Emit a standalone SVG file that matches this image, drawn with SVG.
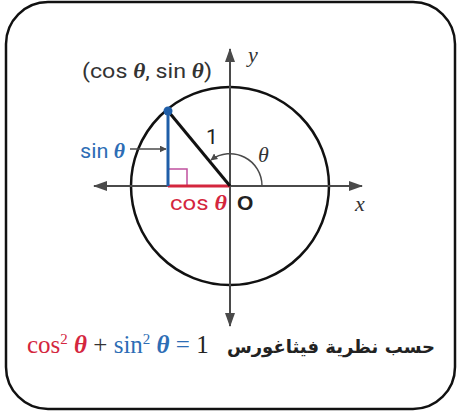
<svg xmlns="http://www.w3.org/2000/svg" width="458" height="414" viewBox="0 0 458 414">
<style>
.ax{stroke:#4a4a4a;stroke-width:2;fill:none}
.lbl{font-family:"Roboto","Liberation Sans",sans-serif;font-size:21px}
.th{font-family:"Liberation Serif",serif;font-style:italic;font-weight:bold}
.var{font-family:"Liberation Serif",serif;font-style:italic;font-size:22px;fill:#333}
.eq{font-family:"Liberation Serif",serif;font-size:25px}
</style>
<defs>
<marker id="ah" viewBox="0 0 10 10" refX="9" refY="5" markerWidth="7" markerHeight="7" orient="auto" markerUnits="userSpaceOnUse">
<path d="M0,0 L10,5 L0,10 Z" fill="#4a4a4a"/>
</marker>
<marker id="axh" viewBox="0 0 14 10" refX="13" refY="5" markerWidth="14" markerHeight="10" orient="auto" markerUnits="userSpaceOnUse">
<path d="M0,0 L14,5 L0,10 Z" fill="#4a4a4a"/>
</marker>
</defs>
<rect x="6" y="2" width="449" height="407" rx="42" ry="42" fill="#fff" stroke="#111" stroke-width="2.5"/>
<g id="circle"><circle cx="230" cy="186" r="99" fill="none" stroke="#111" stroke-width="2.5"/></g>
<g id="connectors">
<line class="ax" x1="230" y1="186" x2="94" y2="186" marker-end="url(#axh)"/>
<line class="ax" x1="230" y1="186" x2="362" y2="186" marker-end="url(#axh)"/>
<line class="ax" x1="230" y1="186" x2="230" y2="49" marker-end="url(#axh)"/>
<line class="ax" x1="230" y1="186" x2="230" y2="326" marker-end="url(#axh)"/>
<path d="M262,186 A32,32 0 0 0 211,160" fill="none" stroke="#4a4a4a" stroke-width="1.5" marker-end="url(#ah)"/>
<line x1="130" y1="149" x2="166" y2="149" stroke="#4a4a4a" stroke-width="1.5" marker-end="url(#ah)"/>
</g>
<g id="triangle">
<rect x="168" y="169" width="19" height="17" fill="none" stroke="#c0509e" stroke-width="1.5"/>
<line x1="168" y1="186" x2="230" y2="186" stroke="#d4263e" stroke-width="3"/>
<line x1="168" y1="111" x2="168" y2="186" stroke="#1f5ea8" stroke-width="3"/>
<line x1="168" y1="111" x2="230" y2="186" stroke="#111" stroke-width="3"/>
<circle cx="168" cy="111" r="4.5" fill="#1f5ea8"/>
</g>
<g id="labels">
<text class="lbl" x="82" y="78" fill="#333" textLength="130" lengthAdjust="spacingAndGlyphs">(cos <tspan class="th">θ</tspan>, sin <tspan class="th">θ</tspan>)</text>
<text class="var" x="248" y="62">y</text>
<text class="var" x="355" y="211">x</text>
<text class="lbl" x="80" y="158" fill="#2d6db5" textLength="45" lengthAdjust="spacingAndGlyphs">sin <tspan class="th">θ</tspan></text>
<text class="lbl" x="170" y="210" fill="#d4263e" textLength="57" lengthAdjust="spacingAndGlyphs">cos <tspan class="th">θ</tspan></text>
<text x="237" y="210" font-family="Liberation Sans,sans-serif" font-size="21" font-weight="bold" fill="#222">O</text>
<text x="206" y="144" font-family="Roboto,Liberation Sans,sans-serif" font-size="21" fill="#222">1</text>
<text class="var" x="258" y="162">θ</text>
</g>
<g id="formula">
<text class="eq" x="27" y="353"><tspan fill="#d4263e">cos<tspan font-size="15" dy="-9">2</tspan><tspan dy="9"> </tspan><tspan class="th">θ</tspan></tspan><tspan fill="#333"> + </tspan><tspan fill="#2d6db5">sin<tspan font-size="15" dy="-9">2</tspan><tspan dy="9"> </tspan><tspan class="th">θ</tspan> =</tspan><tspan fill="#222"> 1</tspan></text>
<text x="435" y="353" text-anchor="start" direction="rtl" font-family="DejaVu Sans,Noto Sans,sans-serif" font-size="18" font-weight="bold" fill="#222">حسب نظرية فيثاغورس</text>
</g>
</svg>
